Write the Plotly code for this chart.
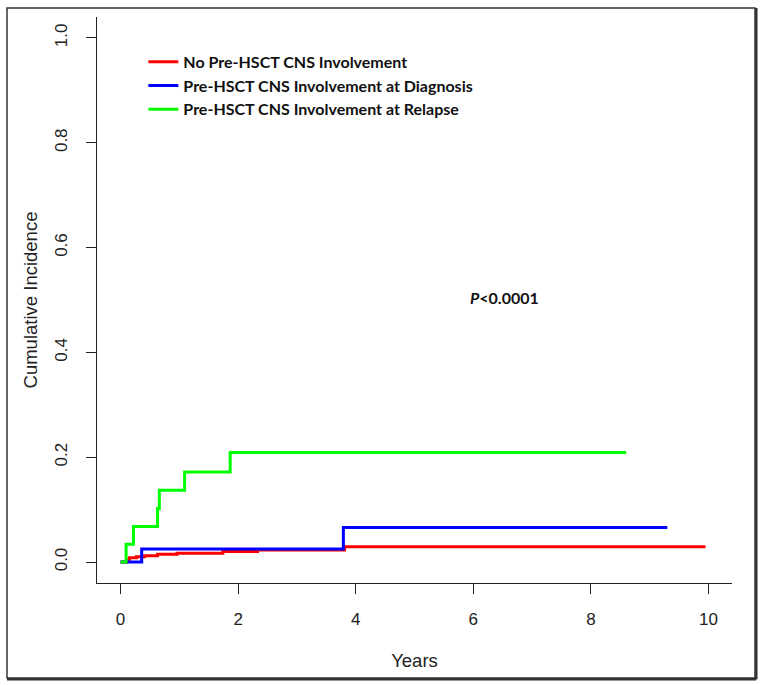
import plotly.graph_objects as go

# Data
series_names = ["No Pre-HSCT CNS Involvement",
                "Pre-HSCT CNS Involvement at Diagnosis",
                "Pre-HSCT CNS Involvement at Relapse"]
series_colors = ["#ff0000", "#0000ff", "#00ff00"]

red_t = [0, 0.10, 0.15, 0.27, 0.41, 0.63, 0.96, 1.74, 2.33, 3.81, 9.95]
red_y = [0, 0.004, 0.008, 0.010, 0.012, 0.015, 0.017, 0.020, 0.023, 0.029, 0.029]

blue_t = [0, 0.36, 3.79, 9.30]
blue_y = [0, 0.025, 0.066, 0.066]

green_t = [0, 0.095, 0.22, 0.63, 0.66, 1.09, 1.865, 8.60]
green_y = [0, 0.034, 0.068, 0.102, 0.137, 0.172, 0.209, 0.209]

x_ticks = [0, 2, 4, 6, 8, 10]
y_ticks = [0.0, 0.2, 0.4, 0.6, 0.8, 1.0]

fig = go.Figure()
for name, color, t, y in zip(series_names, series_colors,
                             [red_t, blue_t, green_t], [red_y, blue_y, green_y]):
    fig.add_trace(go.Scatter(x=t, y=y, mode="lines", name=name,
                             line=dict(color=color, width=3, shape="hv")))

tick_font = dict(family="Liberation Sans, Arial, sans-serif", size=17, color="#222")
title_font = dict(family="Liberation Sans, Arial, sans-serif", size=18.5, color="#222")

fig.update_layout(
    width=764, height=685,
    margin=dict(l=97, r=32, t=17, b=102),
    paper_bgcolor="white", plot_bgcolor="white",
    showlegend=True,
    legend=dict(x=0.073, y=0.951, xanchor="left", yanchor="top",
                bgcolor="rgba(0,0,0,0)", itemwidth=30, tracegroupgap=0,
                font=dict(family="Lato, sans-serif", size=16, color="#111", weight="bold")),
    xaxis=dict(range=[-0.4, 10.4], tickvals=x_ticks, ticktext=[str(v) for v in x_ticks],
               showgrid=False, zeroline=False, showline=True, linecolor="#222", linewidth=1.2,
               ticks="outside", ticklen=10, tickcolor="#222", tickwidth=1.2,
               tickfont=tick_font, ticklabelstandoff=10,
               title=dict(text="Years", font=title_font, standoff=26)),
    yaxis=dict(range=[-0.04, 1.04], tickvals=y_ticks, ticktext=[f"{v:.1f}" for v in y_ticks],
               tickangle=-90,
               showgrid=False, zeroline=False, showline=True, linecolor="#222", linewidth=1.2,
               ticks="outside", ticklen=10, tickcolor="#222", tickwidth=1.2,
               tickfont=tick_font, ticklabelstandoff=12,
               title=dict(text="Cumulative Incidence", font=title_font, standoff=9)),
)

fig.add_annotation(x=6.53, y=0.504, xref="x", yref="y", showarrow=False,
                   text="<i>P</i><0.0001",
                   font=dict(family="Lato, sans-serif", size=16, color="#111", weight="bold"))

# outer frame
fx0, fx1 = (7 - 97) / 635, (755 - 97) / 635
fy0, fy1 = (583 - 678) / 566, (583 - 8) / 566
fig.add_shape(type="rect", xref="paper", yref="paper", x0=fx0, x1=fx1, y0=fy0, y1=fy1,
              line=dict(color="#333", width=1.5), layer="below")
fig.add_shape(type="line", xref="paper", yref="paper", x0=fx0, x1=fx1 + 0.002, y0=fy0 - 0.002, y1=fy0 - 0.002,
              line=dict(color="#333", width=2.5))
fig.add_shape(type="line", xref="paper", yref="paper", x0=fx1 + 0.002, x1=fx1 + 0.002, y0=fy0 - 0.002, y1=fy1,
              line=dict(color="#333", width=2.5))

fig.write_html("out.html", config={"displayModeBar": False},
               post_script="document.body.style.margin='0';document.body.style.overflow='hidden';")
